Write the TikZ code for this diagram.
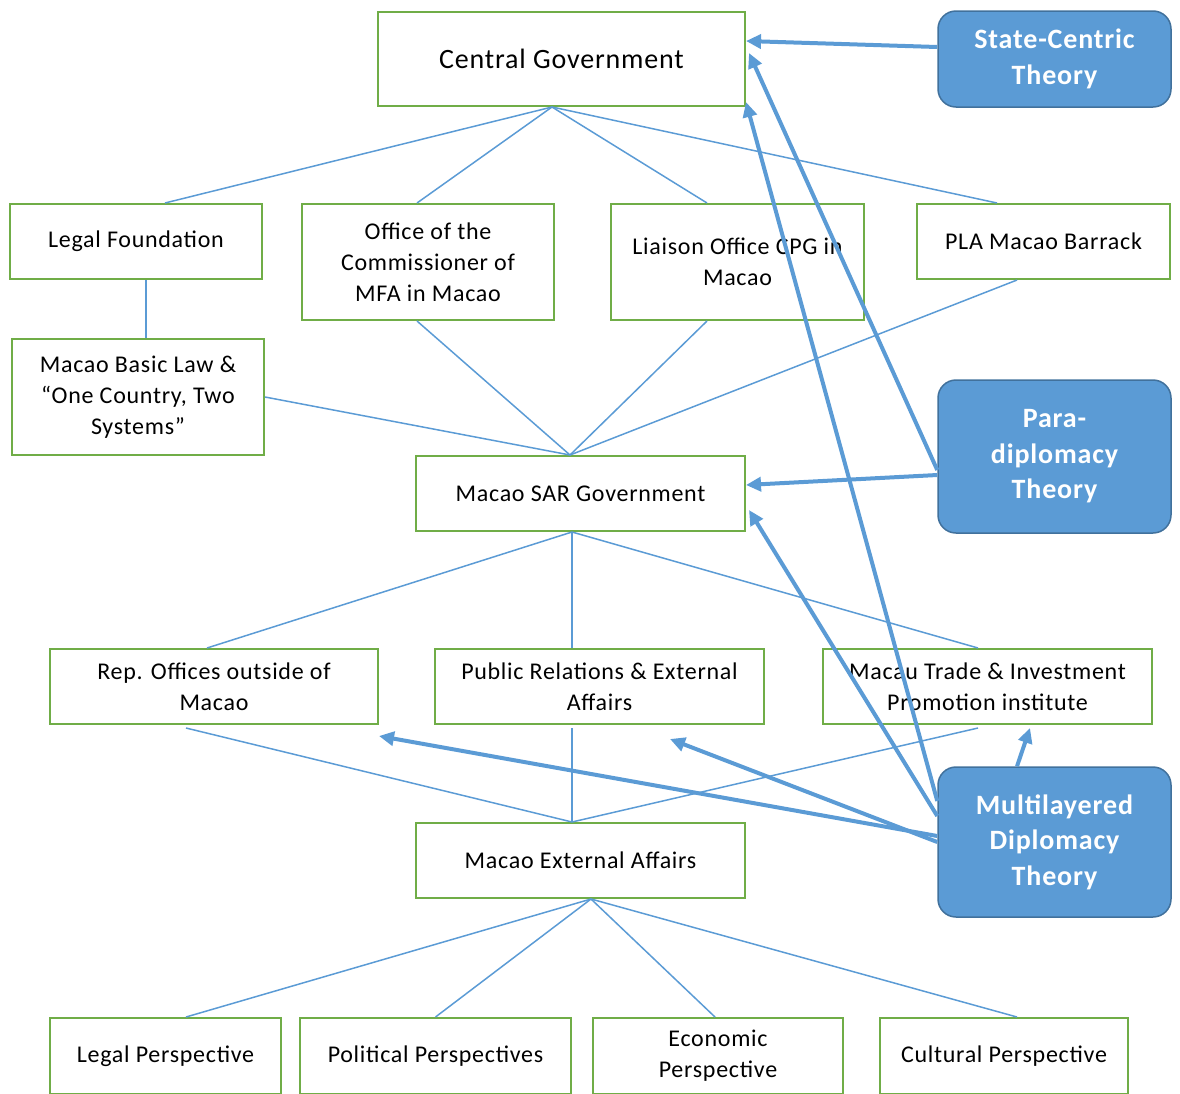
\documentclass[tikz,border=0pt]{standalone}
\usepackage{fontspec}
\setmainfont{Carlito}
\newfontfamily\boxfont[LetterSpace=3]{Carlito}
\usetikzlibrary{arrows.meta}
\definecolor{boxgreen}{HTML}{70AD47}
\definecolor{linkblue}{HTML}{5B9BD5}
\definecolor{theoryedge}{HTML}{41719C}
\begin{document}
\begin{tikzpicture}[x=1pt, y=-1pt,
    unit/.style={draw=boxgreen, line width=2pt, fill=white, align=center,
      inner sep=0pt, font=\boxfont\fontsize{24}{31}\selectfont},
    theory/.style={draw=theoryedge, line width=1.5pt, fill=linkblue,
      rounded corners=18pt, align=center, inner sep=0pt, text=white,
      font=\boxfont\fontsize{28}{35.5}\selectfont\bfseries},
    link/.style={draw=linkblue, line width=1.5pt},
    pull/.style={draw=linkblue, line width=4pt,
      -{Triangle[length=15pt, width=14pt]}}]
      \useasboundingbox (0,0) rectangle (1180,1093);
      \clip (0,0) rectangle (1180,1093);
      %
      \node[unit, minimum width=367, minimum height=94,
        font=\boxfont\fontsize{28}{31}\selectfont] (cg) at (561.5,59) {Central Government};
      \node[unit, minimum width=252, minimum height=75] (legal) at (136,241.5) {Legal Foundation};
      \node[unit, minimum width=252, minimum height=116] (mfa) at (428,262) {Office of the\\Commissioner of\\MFA in Macao};
      \node[unit, minimum width=253, minimum height=116] (liaison) at (737.5,262) {Liaison Office CPG in\\Macao};
      \node[unit, minimum width=253, minimum height=75] (pla) at (1043.5,241.5) {PLA Macao Barrack};
      \node[unit, minimum width=252, minimum height=116] (basiclaw) at (138,397) {Macao Basic Law \&\\“One Country, Two\\Systems”};
      \node[unit, minimum width=329, minimum height=75] (sar) at (580.5,493.5) {Macao SAR Government};
      %
      \node[unit, minimum width=328, minimum height=75] (rep) at (214,686.5) {Rep. Offices outside of\\Macao};
      \node[unit, minimum width=329, minimum height=75] (pr) at (599.5,686.5) {Public Relations \& External\\Affairs};
      \node[unit, minimum width=329, minimum height=75] (trade) at (987.5,686.5) {Macau Trade \& Investment\\Promotion institute};
      \node[unit, minimum width=329, minimum height=75] (ext) at (580.5,860.5) {Macao External Affairs};
      %
      \node[unit, minimum width=231, minimum height=76] (lp) at (165.5,1056) {Legal Perspective};
      \node[unit, minimum width=271, minimum height=76] (pol) at (435.5,1056) {Political Perspectives};
      \node[unit, minimum width=250, minimum height=76] (eco) at (718,1056) {Economic\\Perspective};
      \node[unit, minimum width=248, minimum height=76] (cul) at (1004,1056) {Cultural Perspective};
      %
      \draw[link] ([xshift=-9.5pt]cg.south) -- ([xshift=29pt]legal.north);
      \draw[link] ([xshift=-9.5pt]cg.south) -- ([xshift=-11pt]mfa.north);
      \draw[link] ([xshift=-9.5pt]cg.south) -- ([xshift=-30.5pt]liaison.north);
      \draw[link] ([xshift=-9.5pt]cg.south) -- ([xshift=-46.5pt]pla.north);
      \draw[link] ([xshift=10pt]legal.south) -- ([xshift=8pt]basiclaw.north);
      %
      \draw[link] (basiclaw.east) -- ([xshift=-10.5pt]sar.north);
      \draw[link] ([xshift=-11pt]mfa.south) -- ([xshift=-10.5pt]sar.north);
      \draw[link] ([xshift=-30.5pt]liaison.south) -- ([xshift=-10.5pt]sar.north);
      \draw[link] ([xshift=-26.5pt]pla.south) -- ([xshift=-10.5pt]sar.north);
      %
      \draw[link] ([xshift=-8.5pt]sar.south) -- ([xshift=-7pt]rep.north);
      \draw[link] ([xshift=-8.5pt]sar.south) -- ([xshift=-27.5pt]pr.north);
      \draw[link] ([xshift=-8.5pt]sar.south) -- ([xshift=-9.5pt]trade.north);
      %
      \draw[link] ([xshift=-28pt,yshift=-3pt]rep.south) -- ([xshift=-8.5pt]ext.north);
      \draw[link] ([xshift=-27.5pt,yshift=-3pt]pr.south) -- ([xshift=-8.5pt]ext.north);
      \draw[link] ([xshift=-9.5pt,yshift=-3pt]trade.south) -- ([xshift=-8.5pt]ext.north);
      %
      \draw[link] ([xshift=10.5pt]ext.south) -- ([xshift=20.5pt]lp.north);
      \draw[link] ([xshift=10.5pt]ext.south) -- (pol.north);
      \draw[link] ([xshift=10.5pt]ext.south) -- ([xshift=-3pt]eco.north);
      \draw[link] ([xshift=10.5pt]ext.south) -- ([xshift=13pt]cul.north);
      %
      \node[theory, minimum width=233, minimum height=96] (sct) at (1054.5,59) {State-Centric\\Theory};
      \node[theory, minimum width=233, minimum height=153] (para) at (1054.5,456.5) {Para-\\diplomacy\\Theory};
      \node[theory, minimum width=233, minimum height=150] (multi) at (1054.5,842) {Multilayered\\Diplomacy\\Theory};
      %
      \draw[pull] ([yshift=12pt]sct.west) -- ([yshift=18pt]cg.east);
      \draw[pull] ([yshift=-13.5pt]para.west) -- ([xshift=3pt,yshift=6pt]cg.east);
      \draw[pull] ([yshift=-18.5pt]para.west) -- ([yshift=8.5pt]sar.east);
      \draw[pull] ([yshift=41pt]multi.west) -- ([yshift=5pt]cg.south east);
      \draw[pull] ([yshift=26pt]multi.west) -- ([xshift=3pt,yshift=-16.5pt]sar.east);
      \draw[pull] (multi.west) -- ([xshift=70.5pt,yshift=-14pt]pr.south);
      \draw[pull] ([yshift=6pt]multi.west) -- ([yshift=-11pt]rep.south east);
      \draw[pull] ([xshift=-37.5pt]multi.north) -- ([xshift=42.5pt,yshift=-3pt]trade.south);
      %
    \end{tikzpicture}
\end{document}
